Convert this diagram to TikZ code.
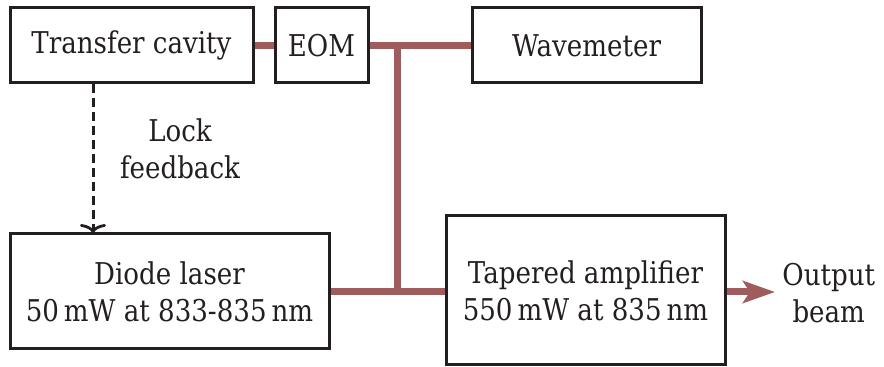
\documentclass[tikz,border=0pt]{standalone}
\usepackage{fontspec}
\setmainfont{DejaVu Serif}[FakeStretch=0.87]
\usetikzlibrary{arrows.meta}
\definecolor{beam}{RGB}{158,92,92}
\definecolor{ink}{RGB}{35,31,32}
\tikzset{
  box/.style={draw=ink, line width=1.5pt, inner sep=0pt, align=center,
    font=\fontsize{15}{18.5}\selectfont, text=ink},
  beamline/.style={draw=beam, line width=3.5pt},
  lbl/.style={align=center, inner sep=0pt, font=\fontsize{15}{18.5}\selectfont, text=ink},
}
\begin{document}
\begin{tikzpicture}[x=0.5pt,y=-0.5pt]
\useasboundingbox (0,0) rectangle (884,367);
\node[box, minimum width=121.5pt, minimum height=37.5pt] (tc) at (131.5,45.5) {Transfer cavity};
\node[box, minimum width=46.5pt, minimum height=37.5pt] (eom) at (321.5,45.5) {EOM};
\node[box, minimum width=114.5pt, minimum height=37.5pt] (wm) at (586.5,45.5) {Wavemeter};
\node[box, minimum width=159.5pt, minimum height=57.5pt] (dl) at (169.5,291.5) {Diode laser\\50\,mW at 833-835\,nm};
\node[box, minimum width=139.5pt, minimum height=74.5pt] (ta) at (585.5,290.5) {Tapered amplifier\\550\,mW at 835\,nm};
\node[lbl] (lock) at (180,149) {Lock\\feedback};
\node[lbl, anchor=west] (out) at (782,293) {Output\\beam};
\coordinate (j1) at (397,45.5);
\coordinate (j2) at (397,292);
\coordinate (tip) at (775,292);
\coordinate (fs) at (93,84);
\coordinate (fe) at (93,233);
% beams
\draw[beamline] (tc.east |- 0,45.5) -- (eom.west |- 0,45.5);
\draw[beamline] (eom.east |- 0,45.5) -- (wm.west |- 0,45.5);
\draw[beamline] (j1) -- (j2);
\draw[beamline] (dl.east |- j2) -- (ta.west |- j2);
\draw[beamline, -{Stealth[length=16pt,width=11pt,inset=3.5pt]}] (ta.east |- j2) -- (tip);
% feedback
\draw[ink, line width=1.5pt, dash pattern=on 4.5pt off 2.5pt, -{To[length=4.5pt,width=13pt,line width=1.4pt]}] (fs) -- (fe);
\end{tikzpicture}
\end{document}
